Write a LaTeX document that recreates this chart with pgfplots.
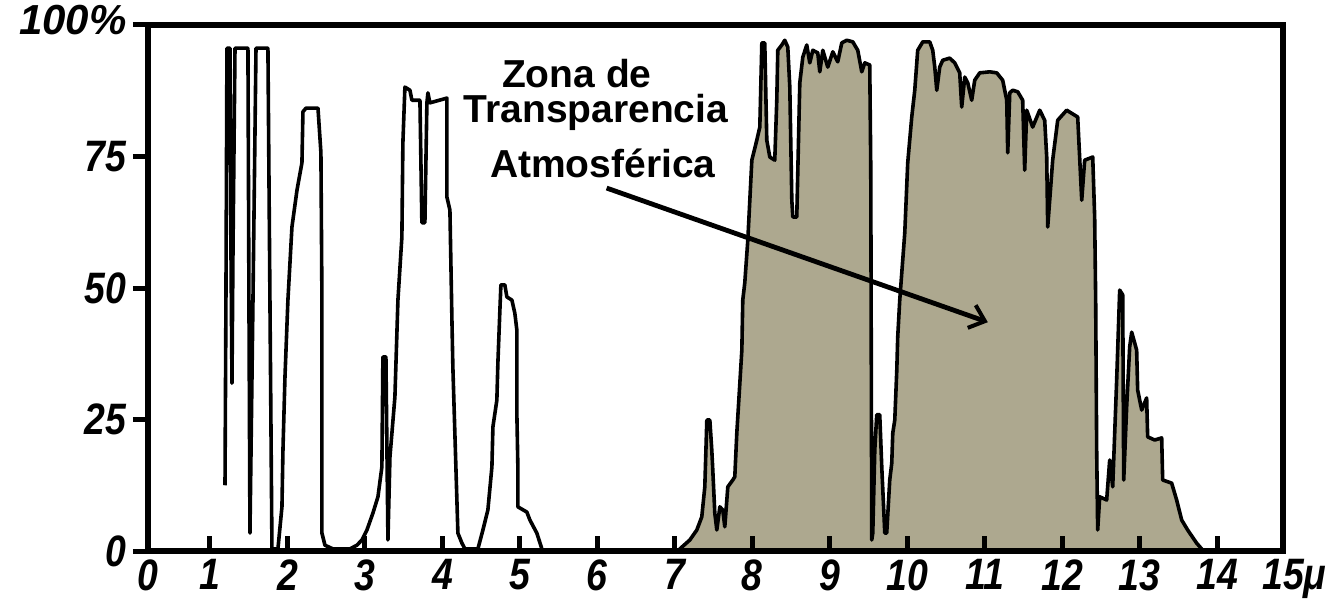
\documentclass[border=0pt]{standalone}
\usepackage{fontspec}
\setmainfont{Liberation Sans}
\newfontfamily\tickfont{Liberation Sans}[FakeStretch=0.85]
\usepackage{pgfplots}
\pgfplotsset{compat=1.18}
\usetikzlibrary{arrows.meta}
\definecolor{zonefill}{RGB}{173,168,143}

\begin{document}
\begin{tikzpicture}
\begin{axis}[
  name=ax,
  scale only axis, width=567.5pt, height=263pt,
  xmin=0.2, xmax=14.85, ymin=0, ymax=100,
  axis on top,
  axis line style={line width=2.8pt},
  tick pos=left,
  xtick={0.2,1,2,3,4,5,6,7,8,9,10,11,12,13,14,14.85},
  xticklabels={0,1,2,3,4,5,6,7,8,9,10,11,12,13,14,15\rlap{μ}},
  ytick={0,25,50,75,100},
  yticklabels={0,25,50,75,{\raisebox{5pt}{\normalfont\bfseries\itshape\fontsize{21}{21}\selectfont 100\%}}},
  xtick align=inside, ytick align=outside,
  major tick length=7.5pt,
  every tick/.style={line width=2.5pt, black},
  ticklabel style={font=\tickfont\bfseries\itshape\fontsize{22}{22}\selectfont, inner sep=1pt},
  xticklabel style={yshift=-3pt},
  yticklabel style={xshift=-2pt},
]
% transmission bands below 5.3 micron (outline only)
\addplot[black, line width=1.8pt, line join=round] coordinates {
(1.194,12.5) (1.206,47.7) (1.219,95.6) (1.258,95.6) (1.271,57.2) (1.284,31.9)
(1.297,57.2) (1.323,95.6) (1.490,95.6) (1.503,47.7) (1.516,3.4) (1.555,47.7)
(1.594,95.6) (1.748,95.6) (1.774,47.7) (1.800,0.4) (1.877,0.4) (1.929,8.4)
(1.942,19.2) (1.968,33.1) (2.006,47.7) (2.058,61.6) (2.123,68.6) (2.187,73.8)
(2.200,83.5) (2.239,84.2) (2.394,84.2) (2.432,75.7) (2.445,47.7) (2.445,30.6)
(2.445,3.4) (2.484,1.1) (2.587,0.4) (2.806,0.4) (2.897,1.1) (2.961,2.1)
(3.026,4.0) (3.103,7.2) (3.168,10.3) (3.219,16.0) (3.232,36.9) (3.271,36.9)
(3.297,2.1) (3.323,17.9) (3.387,29.3) (3.426,47.7) (3.477,59.7) (3.490,77.6)
(3.516,88.2) (3.581,87.6) (3.606,85.7) (3.710,85.7) (3.735,62.4) (3.774,62.4)
(3.800,85.2) (3.813,87.1) (3.839,85.2) (4.058,86.1) (4.058,67.3) (4.097,64.8)
(4.123,43.9) (4.135,35.0) (4.187,9.7) (4.200,3.4) (4.252,1.5) (4.290,0.4)
(4.458,0.4) (4.523,4.0) (4.587,7.8) (4.639,16.0) (4.652,23.6) (4.703,28.7)
(4.716,35.7) (4.742,45.8) (4.755,50.6) (4.806,50.6) (4.832,48.3) (4.897,47.7)
(4.935,45.2) (4.961,42.0) (4.961,26.2) (4.974,16.0) (4.974,8.4) (5.090,7.4)
(5.129,5.9) (5.219,3.4) (5.284,0.4)
};
% atmospheric window 7--14 micron (filled)
\addplot[black, line width=1.8pt, line join=round, fill=zonefill] coordinates {
(7.065,0.4) (7.194,2.1) (7.284,4.0) (7.348,6.5) (7.387,12.2) (7.413,24.9)
(7.452,24.9) (7.477,19.2) (7.490,15.4) (7.516,7.2) (7.542,4.0) (7.581,8.4)
(7.619,7.8) (7.645,4.6) (7.684,12.2) (7.748,13.5) (7.774,14.1) (7.800,22.4)
(7.865,38.2) (7.877,47.7) (7.903,51.0) (7.942,59.1) (7.968,66.7) (7.994,74.3)
(8.058,78.1) (8.097,80.6) (8.123,96.6) (8.161,96.6) (8.187,78.1) (8.226,74.9)
(8.290,74.3) (8.316,85.7) (8.329,95.2) (8.381,96.2) (8.419,97.1) (8.458,95.8)
(8.484,88.2) (8.510,66.7) (8.523,63.5) (8.574,63.5) (8.613,89.0) (8.652,93.9)
(8.703,96.2) (8.742,92.8) (8.781,95.2) (8.845,94.7) (8.871,91.1) (8.910,95.2)
(8.974,92.0) (9.039,94.9) (9.103,93.0) (9.155,96.6) (9.219,97.1) (9.297,96.8)
(9.361,95.2) (9.413,91.1) (9.452,92.8) (9.516,92.4) (9.529,73.0) (9.542,2.1)
(9.555,3.4) (9.581,19.2) (9.606,25.9) (9.645,25.9) (9.671,16.0) (9.710,3.4)
(9.735,3.4) (9.774,13.5) (9.800,16.7) (9.813,22.4) (9.839,24.9) (9.865,34.4)
(9.877,40.7) (9.903,47.7) (9.968,60.5) (10.006,73.8) (10.058,82.5) (10.097,87.6)
(10.135,95.2) (10.200,96.8) (10.290,96.8) (10.329,95.2) (10.355,92.0) (10.381,87.6)
(10.419,92.0) (10.458,93.3) (10.548,93.7) (10.613,92.8) (10.677,90.9) (10.703,84.4)
(10.742,90.1) (10.781,89.0) (10.832,85.7) (10.871,89.5) (10.935,90.9) (11.065,91.1)
(11.155,90.9) (11.232,89.5) (11.284,85.7) (11.297,75.7) (11.323,87.1) (11.361,87.6)
(11.426,87.3) (11.490,85.7) (11.516,72.4) (11.542,83.8) (11.619,80.6) (11.710,83.8)
(11.774,81.9) (11.800,74.9) (11.813,61.6) (11.877,74.3) (11.942,81.9) (12.058,83.8)
(12.200,82.5) (12.252,66.7) (12.290,74.3) (12.394,74.9) (12.419,63.5) (12.432,47.7)
(12.445,19.2) (12.458,4.0) (12.484,10.3) (12.574,9.7) (12.613,17.3) (12.652,12.2)
(12.703,32.5) (12.742,49.6) (12.781,48.7) (12.794,13.5) (12.832,27.4) (12.871,38.8)
(12.897,41.6) (12.961,38.2) (12.974,30.6) (13.026,26.8) (13.090,29.1) (13.103,21.7)
(13.194,21.1) (13.284,21.5) (13.297,13.5) (13.413,12.9) (13.477,9.7) (13.542,5.9)
(13.619,4.0) (13.735,1.5) (13.800,0.4)
} \closedcycle;
% annotation
\draw[line width=2.4pt, -{Straight Barb[length=7pt,width=12pt,line width=2pt]}]
  (axis cs:6.12,69) -- (axis cs:11.04,43.5);
\node[anchor=base, font=\bfseries\fontsize{19.5}{20}\selectfont] at (axis cs:5.735,88.2) {Zona de};
\node[anchor=base, font=\bfseries\fontsize{19.5}{20}\selectfont] at (axis cs:5.981,81.4) {Transparencia};
\node[anchor=base, font=\bfseries\fontsize{19.5}{20}\selectfont] at (axis cs:6.071,71.1) {Atmosférica};
\end{axis}
\pgfresetboundingbox
\path ([shift={(-74pt,-24.5pt)}]ax.south west) rectangle ++(666.5pt,300pt);
\end{tikzpicture}
\end{document}
